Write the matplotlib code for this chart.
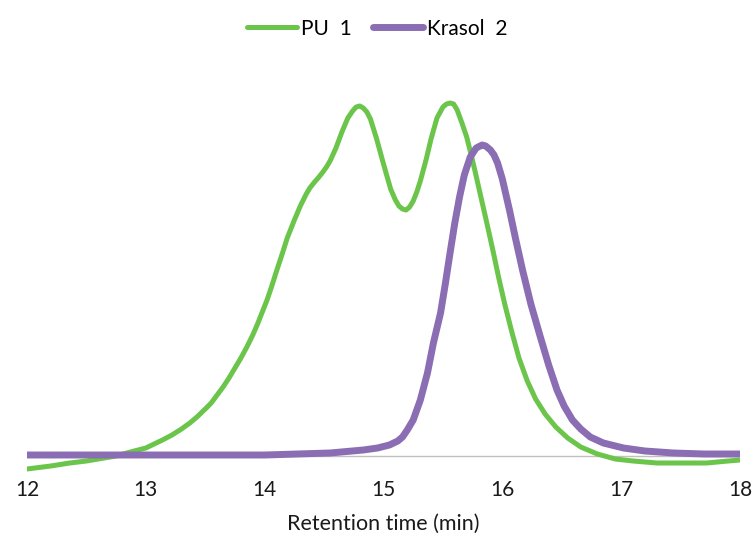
import numpy as np
import matplotlib
matplotlib.use("Agg")
import matplotlib.pyplot as plt

plt.rcParams['font.family'] = ['Lato', 'DejaVu Sans']

# PU 1 trace (retention time, detector signal)
pu_time = [12.00, 12.20, 12.36, 12.50, 12.60, 12.75, 12.87, 13.00, 13.14, 13.22,
           13.30, 13.37, 13.43, 13.50, 13.55, 13.60, 13.65, 13.70, 13.75, 13.80,
           13.85, 13.90, 13.94, 13.98, 14.02, 14.06, 14.10, 14.15, 14.19, 14.25,
           14.30, 14.35, 14.38, 14.42, 14.45, 14.49, 14.52, 14.55, 14.60, 14.65,
           14.70, 14.74, 14.77, 14.80, 14.83, 14.86, 14.89, 14.94, 15.00, 15.06,
           15.10, 15.13, 15.16, 15.19, 15.22, 15.25, 15.28, 15.31, 15.36, 15.40,
           15.45, 15.50, 15.53, 15.56, 15.59, 15.62, 15.66, 15.70, 15.73, 15.77,
           15.81, 15.86, 15.92, 15.97, 16.02, 16.08, 16.14, 16.21, 16.28, 16.36,
           16.45, 16.55, 16.66, 16.80, 16.95, 17.10, 17.30, 17.50, 17.72, 17.90,
           18.00]
pu_signal = [-13, -10, -7, -5, -3, 0, 4, 8, 16, 21,
             27, 33, 39, 47, 53, 61, 69, 78, 88, 98,
             109, 121, 132, 144, 156, 170, 185, 203, 218, 236,
             250, 262, 268, 274, 278, 284, 289, 295, 308, 324,
             338, 345, 349, 350, 348, 344, 337, 318, 292, 267,
             256, 250, 247, 246, 249, 255, 264, 275, 297, 317,
             338, 349, 352, 353, 352, 346, 333, 319, 305, 285,
             264, 238, 206, 178, 152, 124, 98, 75, 57, 42,
             29, 18, 9, 2, -3, -5, -7, -7, -7, -5,
             -4]

# Krasol 2 trace
kr_time = [12.00, 13.00, 14.00, 14.55, 14.83, 14.95, 15.05, 15.12, 15.16, 15.20,
           15.25, 15.31, 15.37, 15.42, 15.48, 15.52, 15.56, 15.60, 15.64, 15.68,
           15.73, 15.78, 15.83, 15.86, 15.90, 15.93, 15.96, 16.00, 16.06, 16.11,
           16.17, 16.24, 16.32, 16.39, 16.46, 16.52, 16.59, 16.66, 16.74, 16.85,
           17.02, 17.20, 17.44, 17.70, 18.00]
kr_signal = [1, 1, 1, 3, 6, 8, 11, 15, 19, 26,
             36, 56, 83, 113, 143, 172, 203, 233, 259, 281,
             299, 308, 311, 310, 306, 301, 293, 277, 246, 218,
             186, 152, 119, 91, 66, 50, 36, 27, 19, 13,
             8, 5, 3, 2, 2]

x_ticks = [12, 13, 14, 15, 16, 17, 18]

green = '#6BC54B'
purple = '#8A6DB3'

fig = plt.figure(figsize=(7.54, 5.37), dpi=100)
ax = fig.add_axes([27/754, 1 - 476/537, 713/754, 400/537])

ax.axhline(0, color='#C0C0C0', lw=1, zorder=1)
ax.plot(pu_time, pu_signal, color=green, lw=3.6, label='PU  1',
        solid_capstyle='round', solid_joinstyle='round', zorder=2)
ax.plot(kr_time, kr_signal, color=purple, lw=5, label='Krasol  2',
        solid_capstyle='round', solid_joinstyle='round', zorder=3)

ax.set_xlim(12, 18)
ax.set_ylim(-20, 380)
ax.set_xticks(x_ticks)
ax.set_xticklabels([str(t) for t in x_ticks])
ax.set_yticks([])
for s in ax.spines.values():
    s.set_visible(False)
ax.tick_params(axis='x', length=0, labelsize=15, pad=3, colors='#1a1a1a')
ax.set_xlabel('Retention time (min)', fontsize=15.5, labelpad=10, color='#1a1a1a')

fig.legend(loc='upper center', bbox_to_anchor=(0.5, 1.0), ncol=2, frameon=False,
           fontsize=15, handlelength=2.4, handletextpad=0.2, columnspacing=1.0)

fig.savefig('out.png', dpi=100)
